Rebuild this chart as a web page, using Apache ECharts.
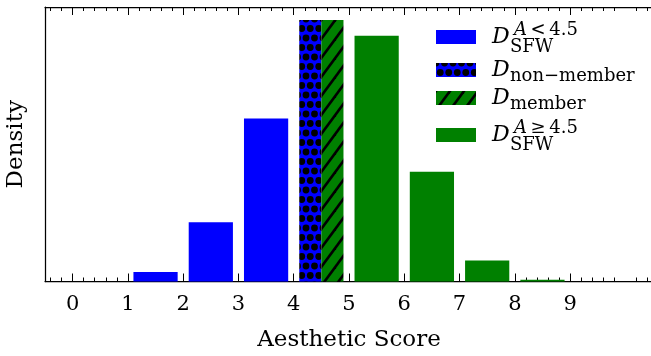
<!DOCTYPE html>
<html>
<head>
<meta charset="utf-8">
<script src="https://cdn.jsdelivr.net/npm/echarts@6/dist/echarts.min.js"></script>
<style>html,body{margin:0;padding:0;background:#fff}#c{width:651px;height:356px}</style>
</head>
<body>
<div id="c"></div>
<script>
// ---- data ----
const sfwLowScores = [1.5, 2.5, 3.5];
const sfwLowDensity = [0.011, 0.068, 0.187];
const nonMemberScores = [4.3];
const nonMemberDensity = [0.300];
const memberScores = [4.7];
const memberDensity = [0.300];
const sfwHighScores = [5.5, 6.5, 7.5, 8.5];
const sfwHighDensity = [0.282, 0.126, 0.024, 0.002];
const xTickLabels = [0, 1, 2, 3, 4, 5, 6, 7, 8, 9];
const seriesNames = ['D_SFW^(A<4.5)', 'D_non\u2212member', 'D_member', 'D_SFW^(A\u22654.5)'];

// ---- styles ----
const F = "'DejaVu Serif', serif";
const BLUE = '#0000ff', GREEN = '#008000';
const FULL_W = 0.8, HALF_W = 0.4;

function dotPattern() {
  const c = document.createElement('canvas');
  const w = 17, h = 19; c.width = w; c.height = h;
  const g = c.getContext('2d');
  g.fillStyle = BLUE; g.fillRect(0, 0, w, h);
  g.fillStyle = '#000';
  [[0,0],[8.5,0],[17,0],[0,19],[8.5,19],[17,19],[4.25,9.5],[12.75,9.5]].forEach(p => {
    g.beginPath(); g.arc(p[0], p[1], 3.4, 0, Math.PI * 2); g.fill();
  });
  return { image: c, repeat: 'repeat' };
}
function hatchPattern() {
  const c = document.createElement('canvas');
  const w = 14, h = 19; c.width = w; c.height = h;
  const g = c.getContext('2d');
  g.fillStyle = GREEN; g.fillRect(0, 0, w, h);
  g.strokeStyle = '#000'; g.lineWidth = 2.6;
  const sl = h / w;
  [-w, 0, w].forEach(k => {
    g.beginPath(); g.moveTo(k - 2, h + 2 * sl); g.lineTo(k + w + 2, -2 * sl); g.stroke();
  });
  return { image: c, repeat: 'repeat' };
}
const DOTS = dotPattern(), HATCH = hatchPattern();

function barSeries(name, xs, ys, width, fill) {
  return {
    type: 'custom', name: name, xAxisIndex: 0, yAxisIndex: 0,
    data: xs.map((x, i) => [x, ys[i]]),
    encode: { x: 0, y: 1 },
    itemStyle: { color: fill },
    silent: true,
    renderItem: function (params, api) {
      const x = api.value(0), y = api.value(1);
      const tl = api.coord([x - width / 2, y]);
      const br = api.coord([x + width / 2, 0]);
      return { type: 'rect', shape: { x: tl[0], y: tl[1], width: br[0] - tl[0], height: br[1] - tl[1] }, style: { fill: fill } };
    }
  };
}

// minor tick positions (every 0.2, excluding integers)
const minorTicks = [];
for (let i = -2; i <= 52; i++) { if (i % 5 !== 0) minorTicks.push(Math.round(i * 2) / 10); }

const maxDensity = Math.max(...sfwLowDensity, ...nonMemberDensity, ...memberDensity, ...sfwHighDensity);

const axisLineStyle = { color: '#000', width: 1.25 };
function xAx(position, major, withLine) {
  return {
    type: 'value', gridIndex: 0, position: position, min: -0.5, max: 10.5,
    splitLine: { show: false },
    axisLine: { show: withLine, onZero: false, lineStyle: axisLineStyle },
    axisTick: { show: true, inside: true, length: major ? 8 : 4, lineStyle: { color: '#000', width: 1 },
                customValues: major ? xTickLabels : minorTicks },
    axisLabel: { show: false }
  };
}
const xMain = xAx('bottom', true, true);
xMain.axisLabel = { show: true, customValues: xTickLabels, margin: 13, fontFamily: F, fontSize: 21, color: '#000' };
xMain.name = 'Aesthetic Score';
xMain.nameLocation = 'middle';
xMain.nameGap = 47.5;
xMain.nameTextStyle = { fontFamily: F, fontSize: 23, color: '#000' };

// ---- legend with math-like rich text ----
const baseRich = {
  D: { fontFamily: F, fontStyle: 'italic', fontSize: 22, color: '#000' },
  Ai: { fontFamily: F, fontStyle: 'italic', fontSize: 18, color: '#000' },
  s: { fontFamily: F, fontSize: 18, color: '#000' },
  gSup: { width: 22 },
  gSub: { width: 18 }
};
function legendFor(name, fill, iconTop, lines, targets, h0) {
  const h = [h0];
  for (let i = 1; i < lines.length; i++) h.push(2 * (targets[i] - targets[i - 1]) - h[i - 1]);
  const sum = h.reduce((a, b) => a + b, 0);
  const d = 2 * targets[0] + sum - h0;
  const E = 20;
  const pt = Math.max(0, d) + E, pb = Math.max(0, -d) + E;
  const H = pt + sum + pb;
  const rich = {};
  const str = lines.map((line, i) => line.map(tk => {
    const key = tk[0] + i;
    rich[key] = Object.assign({}, baseRich[tk[0]], { lineHeight: h[i] });
    return '{' + key + '|' + tk[1] + '}';
  }).join('')).join('\n');
  return {
    show: true, selectedMode: false, orient: 'vertical', left: 436, top: iconTop + 7 - H / 2,
    padding: 0, itemWidth: 40, itemHeight: 14, icon: 'rect',
    data: [{ name: name, itemStyle: { color: fill } }],
    formatter: () => str,
    textStyle: { color: '#000', fontFamily: F, fontSize: 18, rich: rich,
                 padding: [pt, 0, pb, 11], backgroundColor: 'rgba(0,0,0,0)' }
  };
}
const supSubTargets = [-6.65, 0.65, 9.85];
const subTargets = [-0.1, 6.1];
const legends = [
  legendFor(seriesNames[0], BLUE, 30,
    [[['gSup', ' '], ['Ai', 'A'], ['s', '\u2009<\u20094.5']], [['D', 'D']], [['gSub', ' '], ['s', 'SFW']]], supSubTargets, 12.6),
  legendFor(seriesNames[1], DOTS, 63,
    [[['D', 'D']], [['gSub', ' '], ['s', 'non\u2212member']]], subTargets, 2),
  legendFor(seriesNames[2], HATCH, 91,
    [[['D', 'D']], [['gSub', ' '], ['s', 'member']]], subTargets, 2),
  legendFor(seriesNames[3], GREEN, 128,
    [[['gSup', ' '], ['Ai', 'A'], ['s', '\u2009\u2265\u20094.5']], [['D', 'D']], [['gSub', ' '], ['s', 'SFW']]], supSubTargets, 12.6)
];

const chart = echarts.init(document.getElementById('c'), null, { renderer: 'canvas' });
chart.setOption({
  animation: false,
  backgroundColor: '#fff',
  grid: { left: 45, top: 7, width: 608, height: 274.5, containLabel: false, outerBoundsMode: 'none' },
  xAxis: [xMain, xAx('bottom', false, false), xAx('top', true, true), xAx('top', false, false)],
  yAxis: {
    type: 'value', min: 0, max: maxDensity * 1.05,
    axisLine: { show: true, onZero: false, lineStyle: axisLineStyle },
    axisTick: { show: false }, axisLabel: { show: false }, splitLine: { show: false },
    name: 'Density', nameLocation: 'middle', nameRotate: 90, nameGap: 17.5,
    nameTextStyle: { fontFamily: F, fontSize: 23, color: '#000' }
  },
  legend: legends,
  series: [
    barSeries(seriesNames[0], sfwLowScores, sfwLowDensity, FULL_W, BLUE),
    barSeries(seriesNames[1], nonMemberScores, nonMemberDensity, HALF_W, DOTS),
    barSeries(seriesNames[2], memberScores, memberDensity, HALF_W, HATCH),
    barSeries(seriesNames[3], sfwHighScores, sfwHighDensity, FULL_W, GREEN)
  ]
});
</script>
</body>
</html>
